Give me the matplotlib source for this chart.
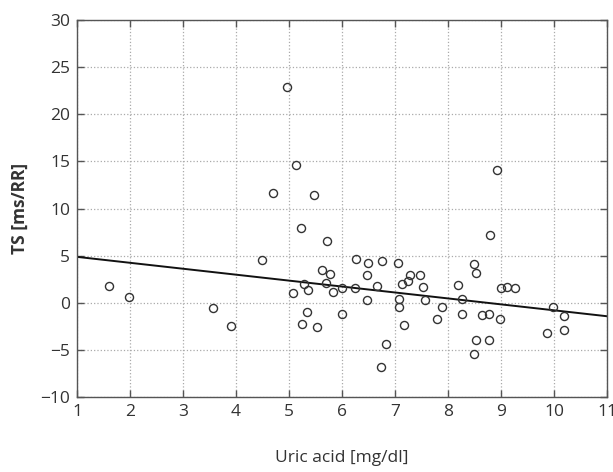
import numpy as np
import matplotlib
matplotlib.use('Agg')
import matplotlib.pyplot as plt

plt.rcParams['font.family'] = ['Open Sans', 'DejaVu Sans']

# uric acid [mg/dl] vs TS [ms/RR]
uric_acid = [4.96, 5.13, 4.69, 5.47, 8.92, 5.23, 5.72, 4.50, 1.60, 1.99,
             3.57, 3.91, 5.62, 5.78, 5.29, 5.70, 5.35, 5.07, 5.83, 5.34,
             5.25, 5.52, 6.01, 6.01, 6.26, 6.24, 6.50, 6.47, 6.48, 6.67,
             6.75, 6.74, 6.84, 7.06, 7.13, 7.08, 7.08, 7.17, 7.25, 7.28,
             7.47, 7.53, 7.57, 7.80, 7.89, 8.19, 8.27, 8.27, 8.50, 8.53,
             8.53, 8.49, 8.64, 8.77, 8.77, 8.79, 8.99, 9.01, 9.12, 9.27,
             9.87, 9.99, 10.19, 10.19]
ts = [22.87, 14.64, 11.6, 11.4, 14.1, 7.9, 6.5, 4.5, 1.75, 0.58,
      -0.55, -2.5, 3.49, 3.03, 1.97, 2.14, 1.40, 1.04, 1.19, -1.0,
      -2.3, -2.6, 1.61, -1.15, 4.59, 1.61, 4.23, 2.92, 0.3, 1.83,
      4.44, -6.85, -4.34, 4.27, 2.0, 0.4, -0.5, -2.36, 2.28, 2.92,
      2.92, 1.65, 0.27, -1.75, -0.41, 1.86, 0.37, -1.15, 4.09, 3.17,
      -3.99, -5.47, -1.26, -1.19, -3.99, 7.17, -1.72, 1.61, 1.72, 1.61,
      -3.17, -0.45, -1.36, -2.92]

# regression line as drawn
fit_intercept = 5.5
fit_slope = -0.63

x_ticks = list(range(1, 12))
y_ticks = list(range(-10, 31, 5))

fig = plt.figure(figsize=(6.13, 4.72), dpi=100)
ax = fig.add_axes([0.1256, 0.1589, 0.8645, 0.7987])

ax.plot(uric_acid, ts, 'o', mfc='none', mec='#333333', ms=5.8, mew=1.0, zorder=3)

xl = np.array([1, 11])
ax.plot(xl, fit_intercept + fit_slope * xl, color='#111111', lw=1.4, zorder=2)

ax.set_xlim(1, 11)
ax.set_ylim(-10, 30)
ax.set_xticks(x_ticks)
ax.set_yticks(y_ticks)
ax.set_yticklabels([str(v).replace('-', '\u2212') for v in y_ticks])
ax.grid(True, linestyle=':', color='#aaaaaa', lw=0.9)
ax.tick_params(direction='in', top=True, right=True, length=5, width=1,
               color='#555555', labelsize=12.5, labelcolor='#333333', pad=5)
for s in ax.spines.values():
    s.set_color('#555555')
    s.set_linewidth(1.0)

ax.set_xlabel('Uric acid [mg/dl]', fontsize=12.5, color='#333333', labelpad=22)
ax.set_ylabel('TS [ms/RR]', fontsize=12.5, fontweight='bold', color='#333333', labelpad=8)

fig.savefig('out.png', dpi=100)
